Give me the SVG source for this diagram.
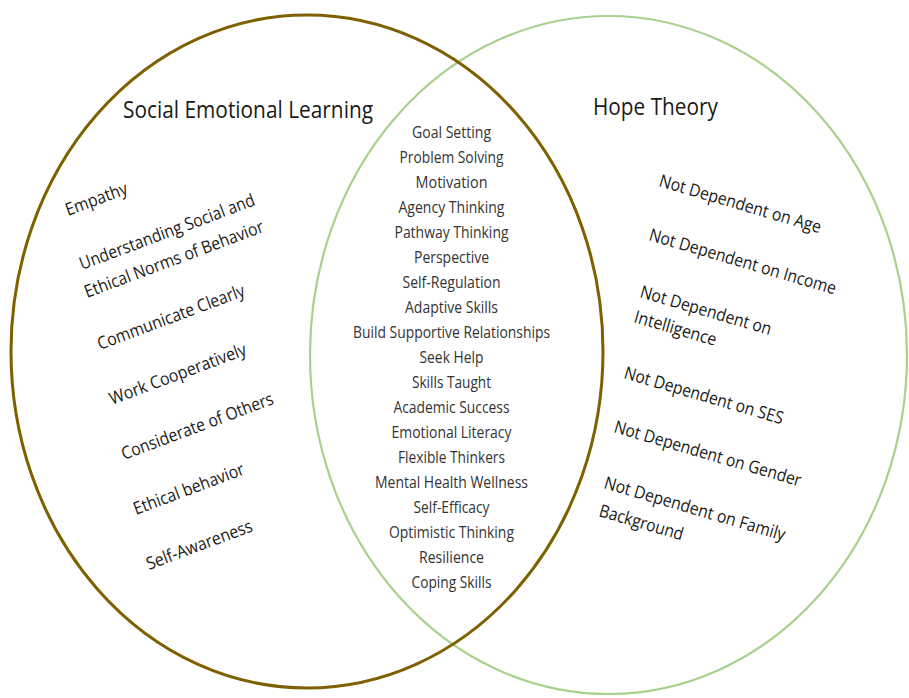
<svg xmlns="http://www.w3.org/2000/svg" width="909" height="698" viewBox="0 0 909 698">
  <style>
    .ring-sel { fill: none; stroke: #7f6000; stroke-width: 3; }
    .ring-hope { fill: none; stroke: #a9d18e; stroke-width: 2.2; }
    text { font-family: "Open Sans", "Liberation Sans", sans-serif; }
    .title { font-size: 23.5px; fill: #1a1a1a; }
    .side { font-size: 17.5px; fill: #1a1a1a; }
    .shared { font-size: 15.5px; fill: #333333; text-anchor: middle; }
  </style>
  <rect width="909" height="698" fill="#ffffff"/>

  <!-- the two overlapping sets; the brown ring sits on top -->
  <g id="connectors">
    <ellipse id="hope-ring" class="ring-hope" cx="608.5" cy="355" rx="298.5" ry="339"/>
    <ellipse id="sel-ring" class="ring-sel" cx="307" cy="351.5" rx="296" ry="336.5"/>
  </g>

  <g id="sel-title">
    <text class="title" x="123" y="118" textLength="250" lengthAdjust="spacingAndGlyphs">Social Emotional Learning</text>
  </g>
  <g id="hope-title">
    <text class="title" x="593" y="115" textLength="125" lengthAdjust="spacingAndGlyphs">Hope Theory</text>
  </g>

  <!-- Social Emotional Learning only -->
  <g id="sel-items">
    <text class="side" transform="translate(68 216) rotate(-20.5)" textLength="65" lengthAdjust="spacingAndGlyphs">Empathy</text>
    <text class="side" transform="translate(82 270) rotate(-20.5)" textLength="186" lengthAdjust="spacingAndGlyphs">Understanding Social and</text>
    <text class="side" transform="translate(87 298) rotate(-20.5)" textLength="190" lengthAdjust="spacingAndGlyphs">Ethical Norms of Behavior</text>
    <text class="side" transform="translate(100 350) rotate(-20.5)" textLength="156" lengthAdjust="spacingAndGlyphs">Communicate Clearly</text>
    <text class="side" transform="translate(112 405) rotate(-20.5)" textLength="145" lengthAdjust="spacingAndGlyphs">Work Cooperatively</text>
    <text class="side" transform="translate(124 460) rotate(-20.5)" textLength="161" lengthAdjust="spacingAndGlyphs">Considerate of Others</text>
    <text class="side" transform="translate(136 515) rotate(-20.5)" textLength="117" lengthAdjust="spacingAndGlyphs">Ethical behavior</text>
    <text class="side" transform="translate(149 570) rotate(-20.5)" textLength="112" lengthAdjust="spacingAndGlyphs">Self-Awareness</text>
  </g>

  <!-- shared by both -->
  <g id="shared-items">
    <text class="shared" x="451.5" y="138" textLength="79" lengthAdjust="spacingAndGlyphs">Goal Setting</text>
    <text class="shared" x="451.5" y="163" textLength="104" lengthAdjust="spacingAndGlyphs">Problem Solving</text>
    <text class="shared" x="451.5" y="188" textLength="72" lengthAdjust="spacingAndGlyphs">Motivation</text>
    <text class="shared" x="451.5" y="213" textLength="106" lengthAdjust="spacingAndGlyphs">Agency Thinking</text>
    <text class="shared" x="451.5" y="238" textLength="114" lengthAdjust="spacingAndGlyphs">Pathway Thinking</text>
    <text class="shared" x="451.5" y="263" textLength="75" lengthAdjust="spacingAndGlyphs">Perspective</text>
    <text class="shared" x="451.5" y="288" textLength="98" lengthAdjust="spacingAndGlyphs">Self-Regulation</text>
    <text class="shared" x="451.5" y="313" textLength="93" lengthAdjust="spacingAndGlyphs">Adaptive Skills</text>
    <text class="shared" x="451.5" y="338" textLength="197" lengthAdjust="spacingAndGlyphs">Build Supportive Relationships</text>
    <text class="shared" x="451.5" y="363" textLength="64" lengthAdjust="spacingAndGlyphs">Seek Help</text>
    <text class="shared" x="451.5" y="388" textLength="79" lengthAdjust="spacingAndGlyphs">Skills Taught</text>
    <text class="shared" x="451.5" y="413" textLength="116" lengthAdjust="spacingAndGlyphs">Academic Success</text>
    <text class="shared" x="451.5" y="438" textLength="120" lengthAdjust="spacingAndGlyphs">Emotional Literacy</text>
    <text class="shared" x="451.5" y="463" textLength="107" lengthAdjust="spacingAndGlyphs">Flexible Thinkers</text>
    <text class="shared" x="451.5" y="488" textLength="153" lengthAdjust="spacingAndGlyphs">Mental Health Wellness</text>
    <text class="shared" x="451.5" y="513" textLength="76" lengthAdjust="spacingAndGlyphs">Self-Efficacy</text>
    <text class="shared" x="451.5" y="538" textLength="125" lengthAdjust="spacingAndGlyphs">Optimistic Thinking</text>
    <text class="shared" x="451.5" y="563" textLength="65" lengthAdjust="spacingAndGlyphs">Resilience</text>
    <text class="shared" x="451.5" y="588" textLength="80" lengthAdjust="spacingAndGlyphs">Coping Skills</text>
  </g>

  <!-- Hope Theory only -->
  <g id="hope-items">
    <text class="side" transform="translate(658 186) rotate(16.3)" textLength="168" lengthAdjust="spacingAndGlyphs">Not Dependent on Age</text>
    <text class="side" transform="translate(648 240) rotate(16.3)" textLength="194" lengthAdjust="spacingAndGlyphs">Not Dependent on Income</text>
    <text class="side" transform="translate(639 297) rotate(16.3)" textLength="136" lengthAdjust="spacingAndGlyphs">Not Dependent on</text>
    <text class="side" transform="translate(633 322) rotate(16.3)" textLength="85" lengthAdjust="spacingAndGlyphs">Intelligence</text>
    <text class="side" transform="translate(623 378) rotate(16.3)" textLength="165" lengthAdjust="spacingAndGlyphs">Not Dependent on SES</text>
    <text class="side" transform="translate(613 432) rotate(16.3)" textLength="194" lengthAdjust="spacingAndGlyphs">Not Dependent on Gender</text>
    <text class="side" transform="translate(603 488) rotate(16.3)" textLength="188" lengthAdjust="spacingAndGlyphs">Not Dependent on Family</text>
    <text class="side" transform="translate(598 516) rotate(16.3)" textLength="87" lengthAdjust="spacingAndGlyphs">Background</text>
  </g>
</svg>
